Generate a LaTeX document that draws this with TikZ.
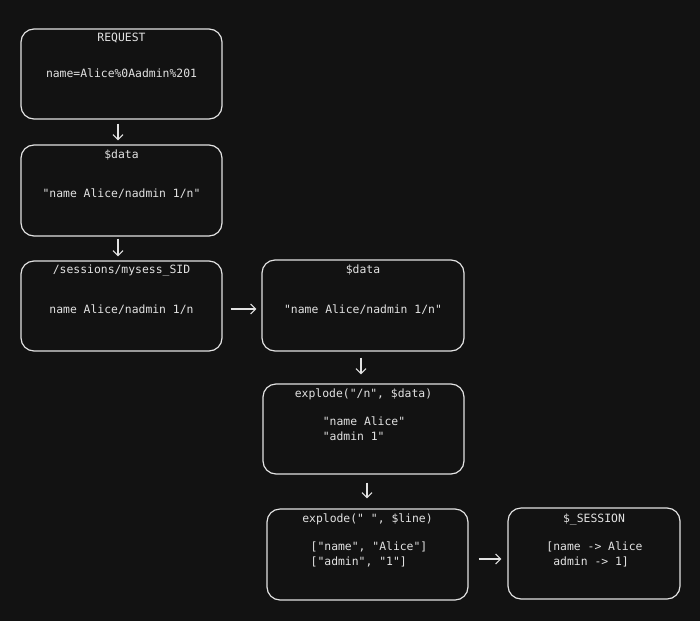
\documentclass[tikz,border=0pt]{standalone}
\usepackage{fontspec}
\setmonofont{DejaVu Sans Mono}
\usetikzlibrary{arrows.meta}
\definecolor{bg}{HTML}{121212}
\definecolor{ink}{HTML}{E2E2E2}
\tikzset{
  box/.style={draw=ink, line width=1.2pt, rounded corners=13pt, inner sep=0pt},
  txt/.style={text=ink, font=\ttfamily\fontsize{11.4}{15}\selectfont, inner sep=0pt, align=left},
  arr/.style={draw=ink, line width=1.1pt, -{Straight Barb[length=5pt,width=10pt,line width=1.1pt]}}
}
\begin{document}
\begin{tikzpicture}[x=1pt,y=-1pt]
\fill[bg] (0,0) rectangle (700,621);
\useasboundingbox (0,0) rectangle (700,621);
% boxes
\node[box, minimum width=201pt, minimum height=90pt] (b1) at (121.5,74) {};
\node[box, minimum width=201pt, minimum height=91pt] (b2) at (121.5,190.5) {};
\node[box, minimum width=201pt, minimum height=90pt] (b3) at (121.5,306) {};
\node[box, minimum width=202pt, minimum height=91pt] (b4) at (363,305.5) {};
\node[box, minimum width=201pt, minimum height=90pt] (b5) at (363.5,429) {};
\node[box, minimum width=201pt, minimum height=91pt] (b6) at (367.5,554.5) {};
\node[box, minimum width=172pt, minimum height=91pt] (b7) at (594,553.5) {};
% titles
\node[txt] (t1) at (121.5,38.5) {REQUEST};
\node[txt] (t2) at (121.5,155.5) {\$data};
\node[txt] (t3) at (121.5,270.5) {/sessions/mysess\_SID};
\node[txt] (t4) at (363,270.5) {\$data};
\node[txt] (t5) at (363.5,394.5) {explode("/n", \$data)};
\node[txt] (t6) at (367.5,519.5) {explode(" ", \$line)};
\node[txt] (t7) at (594,519.5) {\$\_SESSION};
% bodies
\node[txt] (c1) at (121.5,73.5) {name=Alice\%0Aadmin\%201};
\node[txt] (c2) at (121.5,193.5) {"name Alice/nadmin 1/n"};
\node[txt] (c3) at (121.5,309.5) {name Alice/nadmin 1/n};
\node[txt] (c4) at (363,309.5) {"name Alice/nadmin 1/n"};
\node[txt] (c5) at (364,429) {"name Alice"\\"admin 1"};
\node[txt] (c6) at (369,554) {{[}"name", "Alice"{]}\\{[}"admin", "1"{]}};
\node[txt] (c7) at (594.5,554) {{[}name -> Alice\\\phantom{[}admin -> 1{]}};
% arrows
\draw[arr, shorten <=4pt, shorten >=4pt] ([xshift=-3.5pt]b1.south) -- ([xshift=-3.5pt]b2.north);
\draw[arr, shorten <=2pt, shorten >=4pt] ([xshift=-3.5pt]b2.south) -- ([xshift=-3.5pt]b3.north);
\draw[arr, shorten <=8pt, shorten >=5pt] ([yshift=-3pt]b3.east) -- ([yshift=-3.5pt]b4.west);
\draw[arr, shorten <=6pt, shorten >=9pt] ([xshift=-2pt]b4.south) -- ([xshift=-2.5pt]b5.north);
\draw[arr, shorten <=8pt, shorten >=10pt] ([xshift=3.5pt]b5.south) -- ([xshift=-0.5pt]b6.north);
\draw[arr, shorten <=10pt, shorten >=6pt] ([yshift=-4.5pt]b6.east) -- ([yshift=-5.5pt]b7.west);
\end{tikzpicture}
\end{document}
